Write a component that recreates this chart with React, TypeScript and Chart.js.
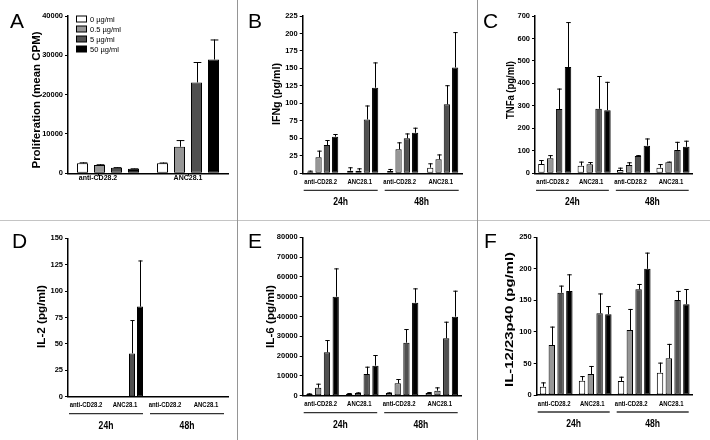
import React, { useEffect, useRef } from "react";
import { Chart, registerables } from "chart.js";

Chart.register(...registerables);

const FONT = '"Liberation Sans", Arial, Helvetica, sans-serif';

// ---------- data ----------
const doses = ["0 µg/ml", "0.5 µg/ml", "5 µg/ml", "50 µg/ml"];
const doseColors = ["#ffffff", "#969696", "#505050", "#000000"];
const groupsA = ["anti-CD28.2", "ANC28.1"];
const groupsTime = ["anti-CD28.2", "ANC28.1", "anti-CD28.2", "ANC28.1"];
const times = ["24h", "48h"];

// rows = dose (0, 0.5, 5, 50 µg/ml), columns = group
const profMean = [[2540, 2540], [2100, 6750], [1420, 23100], [1170, 28930]];
const profErr = [[250, 200], [200, 1700], [150, 5200], [100, 5100]];

const ifngMean = [[2.4, 3.8, 3.3, 8.1], [22.9, 3.8, 34.3, 20], [40.5, 77, 50, 98.6], [52.4, 122.4, 58, 151.4]];
const ifngErr = [[1.4, 4.8, 2.9, 6.2], [9.5, 3.3, 10, 7], [7.1, 20, 7, 27.4], [3.8, 36.2, 7.2, 50.6]];

const tnfMean = [[41, 34, 15, 25], [67, 40, 37, 49], [286, 287, 77, 104], [473, 281, 123, 118]];
const tnfErr = [[18, 18, 10, 16], [14, 10, 12, 3], [91, 146, 4, 36], [200, 126, 32, 27]];

const il2Mean = [[0, 0, 0, 0], [0, 0, 0, 0], [0, 41, 0, 0], [0, 85.3, 0, 0]];
const il2Err = [[0, 0, 0, 0], [0, 0, 0, 0], [0, 31.6, 0, 0], [0, 43.7, 0, 0]];

const il6Mean = [[840, 1000, 1350, 1350], [4040, 1350, 6230, 2530], [21890, 10940, 26770, 28960], [50000, 15150, 46970, 39900]];
const il6Err = [[340, 350, 330, 500], [2020, 330, 2190, 1680], [6220, 3710, 6900, 8410], [14300, 5390, 7240, 13130]];

const il12Mean = [[13.2, 22.7, 22.2, 35.4], [79.3, 33.3, 103, 58.1], [162, 129.5, 167.5, 150.6], [165, 128, 200, 143.8]];
const il12Err = [[6.8, 7.3, 6.8, 15.9], [29.1, 12.7, 33.4, 22.9], [11.4, 31.5, 8.5, 14.4], [26.3, 13, 25.7, 24.2]];

// ---------- panel layout ----------
type Panel = {
  letter: string; letterPos: [number, number];
  title: string; titlePos: [number, number]; titleLen: number;
  area: [number, number, number, number];
  max: number; step: number;
  labels: string[]; means: number[][]; errs: number[][];
  cat: number; bar: number;
  labelFont: number; labelSx: number; labelDy: number; labelShift: number[];
  withTimes: boolean; legend: boolean; xTicks: boolean;
};

const PANELS: Panel[] = [
  { letter: "A", letterPos: [10, 28], title: "Proliferation (mean CPM)", titlePos: [37, 100], titleLen: 137,
    area: [68, 16, 228, 173.3], max: 40000, step: 10000, labels: groupsA, means: profMean, errs: profErr,
    cat: 0.85, bar: 0.65, labelFont: 7, labelSx: 1, labelDy: 4.5, labelShift: [-10, 0], withTimes: false, legend: true, xTicks: true },
  { letter: "B", letterPos: [248, 28], title: "IFNg (pg/ml)", titlePos: [277, 94], titleLen: 62,
    area: [302.7, 16, 462.7, 173.3], max: 225, step: 25, labels: groupsTime, means: ifngMean, errs: ifngErr,
    cat: 0.83, bar: 0.75, labelFont: 7, labelSx: 0.85, labelDy: 8.7, labelShift: [-2, -3, -3, -2], withTimes: true, legend: false, xTicks: false },
  { letter: "C", letterPos: [483, 28], title: "TNFa (pg/ml)", titlePos: [511, 90], titleLen: 58,
    area: [535, 16, 692.7, 173.3], max: 700, step: 100, labels: groupsTime, means: tnfMean, errs: tnfErr,
    cat: 0.9, bar: 0.73, labelFont: 7, labelSx: 0.85, labelDy: 8.7, labelShift: [-2, -3, -3, -2], withTimes: true, legend: false, xTicks: false },
  { letter: "D", letterPos: [12, 248], title: "IL-2 (pg/ml)", titlePos: [42, 316.5], titleLen: 63,
    area: [68, 238.3, 228, 396.7], max: 150, step: 25, labels: groupsTime, means: il2Mean, errs: il2Err,
    cat: 0.8, bar: 0.75, labelFont: 7, labelSx: 0.85, labelDy: 8.2, labelShift: [-2, -3, -3, -2], withTimes: true, legend: false, xTicks: false },
  { letter: "E", letterPos: [248, 248], title: "IL-6 (pg/ml)", titlePos: [271, 316.5], titleLen: 63,
    area: [302.7, 237.3, 461.7, 395.7], max: 80000, step: 10000, labels: groupsTime, means: il6Mean, errs: il6Err,
    cat: 0.88, bar: 0.72, labelFont: 7, labelSx: 0.85, labelDy: 8.5, labelShift: [-2, -3, -3, -2], withTimes: true, legend: false, xTicks: false },
  { letter: "F", letterPos: [484, 248], title: "IL-12/23p40 (pg/ml)", titlePos: [510, 319.5], titleLen: 135,
    area: [536.7, 237.3, 692.7, 395], max: 250, step: 50, labels: groupsTime, means: il12Mean, errs: il12Err,
    cat: 0.9, bar: 0.73, labelFont: 7, labelSx: 0.85, labelDy: 9, labelShift: [-2, -3, -3, -2], withTimes: true, legend: false, xTicks: false },
];

const W = 710;
const H = 440;
const Y_AXIS_W = 40;

function drawText(
  ctx: CanvasRenderingContext2D, s: string, x: number, y: number,
  font: string, align: CanvasTextAlign, baseline: CanvasTextBaseline, sx = 1, rot = 0, color = "#000"
) {
  ctx.save();
  ctx.translate(x, y);
  if (rot) ctx.rotate(rot);
  ctx.scale(sx, 1);
  ctx.font = font;
  ctx.textAlign = align;
  ctx.textBaseline = baseline;
  ctx.fillStyle = color;
  ctx.fillText(s, 0, 0);
  ctx.restore();
}

function buildConfig(p: Panel): any {
  const [L, T, R, B] = p.area;
  const errPlugin = {
    id: "errbars" + p.letter,
    afterDatasetsDraw(chart: any) {
      const ctx: CanvasRenderingContext2D = chart.ctx;
      const yS = chart.scales.y;
      ctx.save();
      ctx.strokeStyle = "#000";
      ctx.lineWidth = 1;
      chart.data.datasets.forEach((ds: any, d: number) => {
        const meta = chart.getDatasetMeta(d);
        meta.data.forEach((el: any, i: number) => {
          const e = p.errs[d][i];
          const v = ds.data[i];
          if (!e) return;
          const yTop = yS.getPixelForValue(v + e);
          const x = Math.round(el.x) + 0.5;
          const hw = el.width * 0.35;
          ctx.beginPath();
          ctx.moveTo(x, el.y);
          ctx.lineTo(x, yTop);
          ctx.moveTo(x - hw, yTop + 0.5);
          ctx.lineTo(x + hw, yTop + 0.5);
          ctx.stroke();
        });
      });
      ctx.restore();
    },
    afterDraw(chart: any) {
      const ctx: CanvasRenderingContext2D = chart.ctx;
      const xS = chart.scales.x;
      const ca = chart.chartArea;
      // panel letter
      drawText(ctx, p.letter, p.letterPos[0], p.letterPos[1], `21px ${FONT}`, "left", "alphabetic");
      // y title
      ctx.save();
      ctx.font = `bold 11px ${FONT}`;
      const tw = ctx.measureText(p.title).width;
      ctx.restore();
      drawText(ctx, p.title, p.titlePos[0], p.titlePos[1], `bold 11px ${FONT}`, "center", "middle", p.titleLen / tw, -Math.PI / 2);
      // category labels
      p.labels.forEach((lab, i) => {
        const x = xS.getPixelForValue(i) + p.labelShift[i];
        drawText(ctx, lab, x, ca.bottom + p.labelDy, `bold ${p.labelFont}px ${FONT}`, "center", "middle", p.labelSx);
        if (p.xTicks) {
          ctx.save();
          ctx.strokeStyle = "#000";
          ctx.lineWidth = 1;
          ctx.beginPath();
          ctx.moveTo(Math.round(x) + 0.5, ca.bottom);
          ctx.lineTo(Math.round(x) + 0.5, ca.bottom + 2.5);
          ctx.stroke();
          ctx.restore();
        }
      });
      // time underlines
      if (p.withTimes) {
        const mid = (ca.left + ca.right) / 2;
        const segs: [number, number][] = [[ca.left + 1, mid - 5], [mid + 2, ca.right - 4]];
        ctx.save();
        ctx.strokeStyle = "#333";
        ctx.lineWidth = 1.3;
        segs.forEach(([a, b], k) => {
          ctx.beginPath();
          ctx.moveTo(a, ca.bottom + 17);
          ctx.lineTo(b, ca.bottom + 17);
          ctx.stroke();
          drawText(ctx, times[k], (a + b) / 2, ca.bottom + 29, `bold 11px ${FONT}`, "center", "middle", 0.78);
        });
        ctx.restore();
      }
      // legend
      if (p.legend) {
        doses.forEach((d, k) => {
          const cy = 19 + k * 10;
          ctx.save();
          ctx.fillStyle = doseColors[k];
          ctx.strokeStyle = "#000";
          ctx.lineWidth = 1;
          ctx.fillRect(76.5, cy - 3, 10, 6);
          ctx.strokeRect(76.5, cy - 3, 10, 6);
          ctx.restore();
          drawText(ctx, d, 90, cy + 0.5, `7.5px ${FONT}`, "left", "middle");
        });
      }
    },
  };

  return {
    type: "bar",
    data: {
      labels: p.labels,
      datasets: doses.map((d, k) => ({
        label: d,
        data: p.means[k],
        backgroundColor: doseColors[k],
        borderColor: "#000",
        borderWidth: 1,
        borderSkipped: false,
        categoryPercentage: p.cat,
        barPercentage: p.bar,
      })),
    },
    options: {
      responsive: false,
      animation: false,
      events: [],
      layout: { padding: { left: L - Y_AXIS_W, top: T, right: W - R, bottom: H - B - 1 } },
      plugins: { legend: { display: false }, tooltip: { enabled: false }, title: { display: false } },
      scales: {
        x: {
          type: "category",
          grid: { display: false },
          border: { display: true, color: "#000", width: 1.5 },
          ticks: { display: false },
          afterFit: (s: any) => { s.height = 1; },
        },
        y: {
          min: 0,
          max: p.max,
          ticks: {
            stepSize: p.step,
            color: "#000",
            padding: 2,
            font: { family: FONT, size: 7.5, weight: "bold" },
            callback: (v: any) => String(v),
          },
          grid: { drawOnChartArea: false, drawTicks: true, tickLength: 3, color: "#000", tickWidth: 1 },
          border: { display: true, color: "#000", width: 1.5 },
          afterFit: (s: any) => { s.width = Y_AXIS_W; },
        },
      },
    },
    plugins: [errPlugin],
  };
}

export default function App() {
  const refs = useRef<(HTMLCanvasElement | null)[]>([]);
  useEffect(() => {
    const charts = PANELS.map((p, k) => new Chart(refs.current[k] as HTMLCanvasElement, buildConfig(p)));
    return () => charts.forEach((c) => c.destroy());
  }, []);

  const line = (style: React.CSSProperties) => <div style={{ position: "absolute", ...style }} />;

  return (
    <div style={{ position: "absolute", left: 0, top: 0, width: W, height: H, background: "#fff", overflow: "hidden" }}>
      {line({ left: 0, top: 220, width: W, height: 1, background: "#c4c4c4" })}
      {line({ left: 237, top: 0, width: 1, height: H, background: "#959595" })}
      {line({ left: 477, top: 0, width: 1, height: H, background: "#959595" })}
      {PANELS.map((p, k) => (
        <canvas
          key={p.letter}
          ref={(el) => { refs.current[k] = el; }}
          width={W}
          height={H}
          style={{ position: "absolute", left: 0, top: 0, width: W, height: H }}
        />
      ))}
    </div>
  );
}
